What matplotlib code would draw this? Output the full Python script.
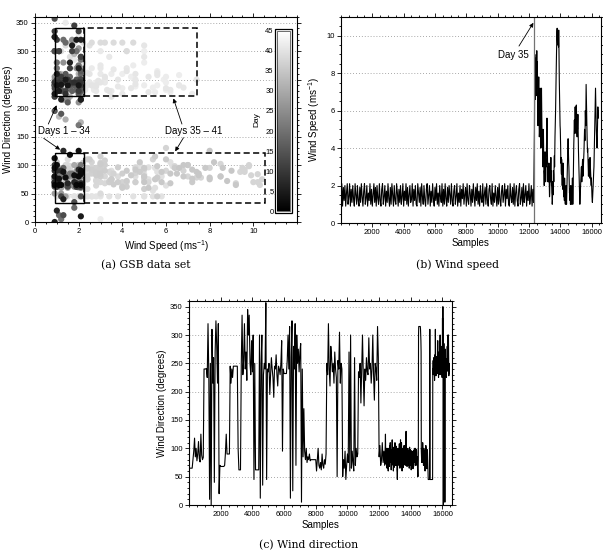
import numpy as np
import matplotlib
matplotlib.use("Agg")
import matplotlib.pyplot as plt
from matplotlib.patches import Rectangle
from matplotlib.ticker import MultipleLocator

plt.rcParams['font.family'] = ['Liberation Sans', 'DejaVu Sans']
plt.rcParams['mathtext.default'] = 'regular'

# ---------------- data ---------------------------------------------------------
CALM_STEP = 50          # days 1-34: one value every 50 samples
STORM_STEP = 12.5       # day 35 on: one value every 12.5 samples
DAY35_SAMPLE = 12350

# wind speed (m/s), days 1-34 (samples 0 - 12300): calm band 0.9 - 2.1
speed_calm = [
    1.1, 2.1, 0.9, 1.9, 1.2, 2.0, 0.9, 1.6, 2.1, 1.0,
    1.4, 2.1, 0.9, 1.8, 1.1, 2.0, 1.3, 0.9, 2.1, 1.5,
    1.0, 2.0, 1.2, 0.9, 1.9, 1.1, 2.1, 1.4, 0.9, 1.7,
    2.1, 1.0, 1.3, 2.0, 0.9, 1.6, 1.2, 2.1, 1.0, 1.8,
    0.9, 1.5, 2.1, 1.1, 1.9, 0.9, 2.0, 1.3, 1.0, 2.1,
    1.2, 0.9, 1.8, 2.1, 1.0, 1.4, 2.0, 0.9, 1.7, 1.1,
    2.1, 1.3, 0.9, 1.9, 1.0, 2.1, 1.5, 0.9, 2.0, 1.2,
    1.0, 2.1, 1.6, 0.9, 1.8, 1.1, 2.0, 1.0, 1.4, 2.1,
    0.9, 1.7, 1.2, 2.1, 1.0, 1.9, 0.9, 1.5, 2.0, 1.1,
    1.3, 2.1, 0.9, 1.8, 1.2, 2.0, 1.0, 0.9, 2.1, 1.6,
    1.1, 1.9, 0.9, 2.1, 1.4, 1.0, 2.0, 1.2, 0.9, 1.8,
    2.1, 1.0, 1.5, 2.0, 0.9, 1.7, 1.1, 2.1, 1.3, 0.9,
    1.9, 1.2, 2.1, 1.0, 1.6, 0.9, 2.0, 1.4, 1.1, 2.1,
    0.9, 1.8, 1.0, 2.1, 1.3, 0.9, 1.9, 1.1, 2.0, 1.5,
    1.0, 2.1, 1.2, 0.9, 1.7, 2.0, 1.0, 1.4, 2.1, 0.9,
    1.6, 1.1, 2.0, 0.9, 1.8, 1.3, 2.1, 1.0, 1.5, 1.9,
    0.9, 2.1, 1.2, 1.0, 2.0, 1.6, 0.9, 1.8, 1.1, 2.1,
    1.4, 0.9, 1.9, 1.2, 2.1, 1.0, 1.7, 0.9, 2.0, 1.3,
    1.1, 2.1, 0.9, 1.5, 1.9, 1.0, 2.1, 1.2, 0.9, 1.8,
    2.0, 1.3, 1.0, 2.1, 0.9, 1.6, 1.1, 2.0, 1.4, 0.9,
    1.9, 1.0, 2.1, 1.2, 0.9, 1.7, 2.0, 1.1, 1.5, 2.1,
    0.9, 1.8, 1.3, 2.0, 1.0, 0.9, 2.1, 1.4, 1.1, 1.9,
    1.0, 2.1, 0.9, 1.6, 2.0, 1.2, 0.9, 1.8, 2.1, 1.0,
    1.3, 1.9, 0.9, 2.1, 1.1, 1.5, 2.0, 0.9, 1.7, 1.2,
    2.1, 1.0, 1.4, 2.0, 0.9, 1.8, 1.1,
]
# wind direction (degrees), days 1-34, same samples
direction_calm = [
    65, 65, 65, 65, 65, 80, 95, 118, 85, 100, 78, 90, 112, 82, 76, 125, 88, 80, 84, 240,
    240, 240, 241, 225, 320, 230, 10, 250, 0, 310, 215, 260, 40, 270, 325, 280, 215, 320, 20, 70,
    68, 68, 68, 68, 68, 70, 92, 125, 90, 90, 90, 90, 245, 215, 240, 225, 245, 245, 245, 245,
    245, 245, 100, 62, 62, 62, 250, 335, 230, 255, 320, 240, 270, 220, 345, 300, 335, 250, 230, 290,
    235, 300, 45, 250, 62, 62, 62, 62, 62, 300, 12, 250, 300, 35, 230, 250, 240, 357, 45, 240,
    235, 250, 195, 230, 260, 240, 225, 190, 245, 240, 265, 230, 210, 245, 240, 230, 250, 290, 95, 240,
    232, 232, 232, 232, 255, 300, 240, 315, 12, 260, 325, 25, 280, 240, 320, 70, 300, 250, 275, 235,
    270, 285, 5, 240, 85, 170, 95, 80, 100, 75, 85, 80, 90, 78, 80, 80, 80, 80, 80, 80,
    80, 60, 80, 100, 70, 65, 75, 62, 90, 70, 65, 80, 72, 90, 250, 230, 320, 240, 210, 280,
    260, 235, 250, 215, 270, 240, 225, 50, 255, 240, 305, 215, 250, 240, 50, 80, 65, 95, 45, 70,
    90, 75, 270, 60, 300, 65, 95, 75, 60, 260, 70, 100, 85, 90, 235, 225, 250, 180, 240, 300,
    230, 175, 240, 220, 260, 235, 230, 295, 240, 250, 215, 240, 300, 230, 185, 250, 240, 220, 315, 260,
    85, 105, 70, 80, 110, 75, 95,
]

# wind speed (m/s), day 35 onwards (samples 12350 - 16437.5)
speed_storm = [
    5.0, 7.5, 9.0, 8.2, 8.0, 6.6, 7.5, 8.8, 8.5, 7.2, 6.8, 8.0, 9.2, 7.4, 8.0, 8.6, 7.0, 5.8, 5.2, 6.2,
    6.5, 7.0, 7.8, 6.2, 5.5, 4.6, 4.8, 5.8, 6.0, 7.2, 6.8, 5.6, 5.0, 4.0, 4.2, 5.6, 7.2, 6.4, 5.5, 4.4,
    5.0, 4.2, 3.5, 3.0, 4.0, 5.0, 4.8, 3.6, 3.0, 2.4, 2.0, 2.8, 2.5, 3.2, 3.8, 2.8, 3.5, 2.2, 2.6, 3.4,
    3.0, 3.8, 4.2, 5.0, 5.6, 4.6, 4.0, 3.2, 3.0, 2.2, 2.4, 3.0, 2.2, 2.8, 3.2, 2.4, 2.0, 1.4, 1.6, 2.4,
    3.0, 2.6, 2.2, 3.0, 3.5, 2.4, 2.8, 2.0, 2.0, 1.6, 1.5, 1.0, 1.2, 2.2, 1.8, 1.5, 2.0, 2.8, 2.6, 2.2,
    3.0, 3.4, 3.6, 3.0, 4.0, 4.6, 5.0, 5.4, 6.0, 6.8, 7.4, 8.0, 8.5, 9.2, 9.8, 10.2, 10.4, 9.8, 9.6, 10.0,
    9.5, 9.9, 10.2, 9.4, 10.3, 9.6, 8.5, 7.6, 7.0, 6.4, 6.0, 5.2, 5.0, 4.6, 4.0, 3.2, 3.5, 2.8, 2.6, 3.4,
    3.0, 2.4, 2.0, 2.8, 2.5, 1.8, 3.2, 2.6, 2.0, 1.5, 1.4, 2.2, 1.8, 1.2, 2.4, 1.8, 1.5, 1.1, 1.0, 1.6,
    1.2, 1.6, 2.0, 1.3, 1.0, 1.5, 1.8, 2.4, 3.0, 3.4, 3.8, 4.2, 4.5, 4.0, 3.6, 3.2, 3.0, 2.6, 2.2, 1.6,
    1.8, 1.4, 1.2, 1.6, 1.0, 1.4, 2.0, 1.2, 1.5, 1.0, 1.0, 1.3, 1.5, 2.0, 2.4, 1.6, 1.0, 1.4, 2.0, 2.8,
    3.5, 4.2, 4.6, 5.2, 5.5, 5.0, 4.8, 5.6, 6.2, 5.6, 5.2, 4.8, 5.8, 6.0, 6.3, 5.8, 5.5, 5.0, 4.6, 5.4,
    5.0, 5.4, 5.8, 5.0, 4.5, 3.8, 3.4, 3.0, 2.5, 2.0, 1.8, 1.2, 1.0, 1.2, 1.5, 1.8, 2.0, 2.4, 2.6, 2.8,
    3.0, 2.6, 2.2, 2.6, 2.8, 3.2, 3.4, 2.9, 2.5, 2.8, 3.0, 3.3, 3.5, 3.8, 4.2, 4.6, 5.0, 4.6, 4.4, 5.2,
    6.0, 5.6, 5.2, 6.6, 7.4, 6.8, 6.2, 5.6, 5.0, 4.6, 4.2, 3.8, 4.0, 3.6, 3.2, 2.8, 2.5, 3.0, 3.4, 3.2,
    3.0, 2.7, 2.4, 3.0, 3.5, 3.2, 3.0, 2.7, 2.5, 2.2, 2.0, 2.4, 2.0, 1.7, 1.4, 1.2, 1.1, 1.3, 1.6, 1.8,
    2.0, 2.3, 2.6, 2.8, 3.0, 3.5, 4.0, 4.5, 5.0, 5.5, 6.0, 6.6, 7.2, 6.6, 6.0, 5.4, 5.0, 4.6, 4.4, 4.2,
    4.0, 4.6, 5.0, 5.6, 6.2, 5.9, 5.6, 6.0,
]
# wind direction (degrees), day 35 onwards, same samples
direction_storm = [
    70, 82, 90, 105, 125, 95, 85, 72, 80, 92, 100, 75, 65, 88, 78, 95, 100, 70, 60, 85,
    85, 100, 95, 68, 75, 92, 105, 88, 110, 76, 80, 98, 80, 62, 90, 78, 70, 95, 115, 82,
    95, 72, 75, 102, 60, 80, 88, 66, 85, 94, 100, 82, 110, 90, 70, 86, 75, 104, 92, 70,
    80, 96, 62, 58, 45, 70, 85, 100, 95, 80, 75, 90, 70, 88, 108, 80, 85, 65, 80, 95,
    115, 85, 68, 90, 75, 110, 95, 70, 60, 78, 82, 100, 90, 66, 72, 94, 80, 88, 105, 76,
    100, 72, 85, 104, 70, 86, 92, 110, 130, 90, 78, 95, 80, 68, 98, 84, 75, 100, 88, 70,
    95, 82, 70, 88, 65, 92, 102, 78, 80, 98, 90, 70, 75, 96, 62, 80, 85, 72, 95, 88,
    70, 92, 80, 64, 90, 78, 68, 96, 80, 88, 100, 82, 75, 94, 85, 70, 100, 80, 72, 90,
    78, 98, 92, 70, 80, 85, 65, 58, 50, 70, 80, 300, 315, 315, 315, 315, 315, 315, 315, 315,
    315, 310, 300, 290, 270, 95, 85, 75, 85, 100, 95, 80, 110, 88, 75, 95, 70, 82, 100, 74,
    90, 70, 80, 96, 60, 84, 92, 76, 105, 88, 75, 100, 80, 64, 98, 86, 95, 78, 70, 55,
    45, 45, 45, 45, 45, 45, 45, 48, 310, 45, 45, 45, 45, 45, 45, 45, 45, 45, 45, 45,
    45, 45, 45, 240, 240, 255, 230, 248, 260, 238, 245, 232, 220, 250, 265, 242, 310, 260, 235, 228,
    235, 262, 255, 240, 250, 236, 232, 258, 290, 250, 270, 238, 225, 268, 245, 230, 245, 275, 290, 252,
    300, 235, 240, 270, 230, 250, 260, 232, 245, 280, 225, 262, 330, 240, 350, 255, 0, 230, 240, 285,
    250, 232, 270, 245, 5, 260, 235, 275, 240, 228, 255, 240, 225, 258, 245, 236, 280, 248, 255, 300,
    260, 238, 300, 265, 228, 250, 240, 232,
]

# day number at anchor samples
day_anchor_samples = [0, DAY35_SAMPLE, 16450]
day_anchor_values = [1, 35, 42]

speed_xticks = [0, 2, 4, 6, 8, 10]
dir_yticks = list(range(0, 351, 50))
sample_ticks = list(range(2000, 16001, 2000))
speed_yticks = [0, 2, 4, 6, 8, 10]
day_ticks = list(range(0, 46, 5))

wind_speed = np.array(speed_calm + speed_storm)
wind_direction = np.array(direction_calm + direction_storm)
samples = np.concatenate([np.arange(len(speed_calm)) * CALM_STEP,
                          DAY35_SAMPLE + np.arange(len(speed_storm)) * STORM_STEP])
day = np.interp(samples, day_anchor_samples, day_anchor_values)

# ---------------- figure ------------------------------------------------------
W, H = 603, 553
fig = plt.figure(figsize=(W / 100, H / 100), dpi=100)


def px_axes(l, t, r, b):
    return fig.add_axes([l / W, 1 - b / H, (r - l) / W, (b - t) / H])


def style(ax):
    ax.tick_params(which='both', direction='out', top=True, right=True,
                   width=0.6, labelsize=5.5, pad=1.5)
    ax.tick_params(which='major', length=3)
    ax.tick_params(which='minor', length=1.6)
    for sp in ax.spines.values():
        sp.set_linewidth(0.8)
    ax.yaxis.grid(True, which='major', color='0.55',
                  linestyle=(0, (1, 2.5)), linewidth=0.6)
    ax.set_axisbelow(True)


arrow_kw = dict(arrowstyle='-|>', lw=0.6, color='black',
                mutation_scale=6, shrinkA=0, shrinkB=0)

# ---- (a) scatter -------------------------------------------------------------
ax_a = px_axes(35, 17, 297, 222)
style(ax_a)
order = np.argsort(-day, kind='stable')   # darker (earlier) days drawn on top
sc = ax_a.scatter(wind_speed[order], wind_direction[order], c=day[order],
                  cmap='gray', vmin=0, vmax=45, s=20, linewidths=0, zorder=2)
ax_a.set_xlim(0, 12)
ax_a.set_ylim(0, 360)
ax_a.set_xticks(speed_xticks)
ax_a.xaxis.set_minor_locator(MultipleLocator(0.5))
ax_a.set_yticks(dir_yticks)
ax_a.yaxis.set_minor_locator(MultipleLocator(10))
ax_a.set_xlabel('Wind Speed (ms$^{-1}$)', fontsize=7, labelpad=2)
ax_a.set_ylabel('Wind Direction (degrees)', fontsize=7, labelpad=2)

dash = (0, (4, 2.2))
ax_a.add_patch(Rectangle((2.25, 221), 7.42 - 2.25, 120, fill=False,
                         ec='black', lw=1.1, ls=dash, zorder=3))
ax_a.add_patch(Rectangle((2.25, 33), 10.52 - 2.25, 89, fill=False,
                         ec='black', lw=1.1, ls=dash, zorder=3))
ax_a.add_patch(Rectangle((0.92, 221), 2.25 - 0.92, 120, fill=False,
                         ec='black', lw=1.0, zorder=3))
ax_a.add_patch(Rectangle((0.92, 33), 2.25 - 0.92, 89, fill=False,
                         ec='black', lw=1.0, zorder=3))

ax_a.text(1.31, 160, 'Days 1 – 34', ha='center', va='center', fontsize=7, zorder=4)
ax_a.annotate('', xy=(0.99, 205), xytext=(0.61, 172), arrowprops=arrow_kw, zorder=4)
ax_a.annotate('', xy=(1.15, 127), xytext=(0.40, 147), arrowprops=arrow_kw, zorder=4)
ax_a.text(7.29, 160, 'Days 35 – 41', ha='center', va='center', fontsize=7, zorder=4)
ax_a.annotate('', xy=(6.34, 217), xytext=(6.73, 172), arrowprops=arrow_kw, zorder=4)
ax_a.annotate('', xy=(6.42, 124), xytext=(6.80, 148), arrowprops=arrow_kw, zorder=4)

# colour bar inside the axes
frame = Rectangle((0.916, 0.0435), 0.065, 0.8986, transform=ax_a.transAxes,
                  fc='white', ec='black', lw=0.9, zorder=4.5)
ax_a.add_patch(frame)
cax = ax_a.inset_axes([0.916 + 0.008, 0.0435 + 0.009, 0.065 - 0.016, 0.8986 - 0.018])
cb = fig.colorbar(sc, cax=cax)
cb.set_ticks(day_ticks)
cb.outline.set_linewidth(0.4)
cax.yaxis.set_ticks_position('left')
cax.tick_params(length=0, labelsize=5.5, pad=2.5)
fig.text(257 / W, 1 - 120 / H, 'Day', rotation=90, fontsize=6,
         ha='center', va='center')

# ---- (b) wind speed ------------------------------------------------------------
ax_b = px_axes(341, 17, 601, 223)
style(ax_b)
ax_b.plot(samples, wind_speed, color='black', lw=0.8)
ax_b.axvline(DAY35_SAMPLE, color='0.45', lw=0.9)
ax_b.set_xlim(0, 16600)
ax_b.set_ylim(0, 11)
ax_b.set_xticks(sample_ticks)
ax_b.xaxis.set_minor_locator(MultipleLocator(500))
ax_b.set_yticks(speed_yticks)
ax_b.yaxis.set_minor_locator(MultipleLocator(0.5))
ax_b.set_xlabel('Samples', fontsize=7, labelpad=1)
ax_b.set_ylabel('Wind Speed (ms$^{-1}$)', fontsize=7, labelpad=3)
ax_b.annotate('Day 35', xy=(12283, 10.69), xytext=(11008, 8.97),
              ha='center', va='center', fontsize=7,
              arrowprops=dict(arrowstyle='-|>', lw=0.6, color='black',
                              mutation_scale=6, shrinkA=1, shrinkB=0))

# ---- (c) wind direction --------------------------------------------------------
ax_c = px_axes(189, 301, 452, 505)
style(ax_c)
ax_c.plot(samples, wind_direction, color='black', lw=0.8)
ax_c.set_xlim(0, 16600)
ax_c.set_ylim(0, 360)
ax_c.set_xticks(sample_ticks)
ax_c.xaxis.set_minor_locator(MultipleLocator(500))
ax_c.set_yticks(dir_yticks)
ax_c.yaxis.set_minor_locator(MultipleLocator(10))
ax_c.set_xlabel('Samples', fontsize=7, labelpad=1)
ax_c.set_ylabel('Wind Direction (degrees)', fontsize=7, labelpad=2)

# ---- captions ------------------------------------------------------------------
cap_kw = dict(family='DejaVu Serif', fontsize=7.8, ha='center', va='center')
fig.text(146 / W, 1 - 265 / H, '(a) GSB data set', **cap_kw)
fig.text(457 / W, 1 - 265 / H, '(b) Wind speed', **cap_kw)
fig.text(309 / W, 1 - 545 / H, '(c) Wind direction', **cap_kw)

fig.savefig('out.png', dpi=100)
